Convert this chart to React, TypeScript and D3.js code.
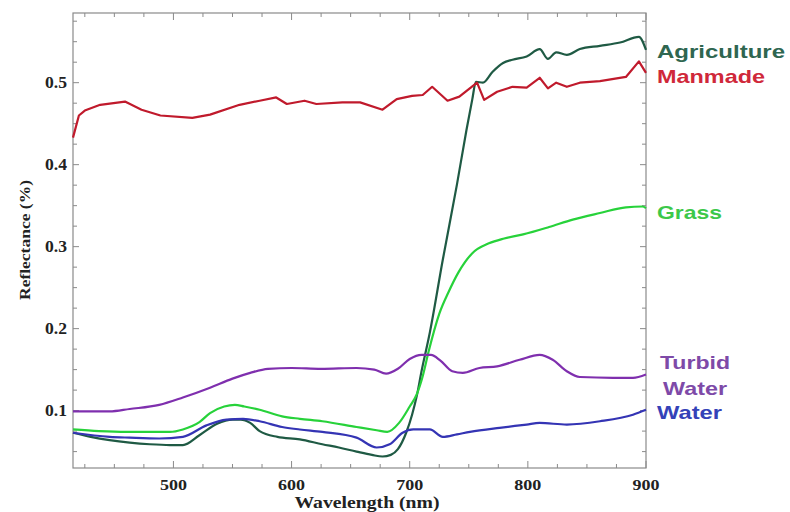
import React from "react";
import * as d3 from "d3";

// ---- data (wavelength nm, reflectance) ----
const agriculture: [number, number][] = [
  [415, 0.073], [430, 0.068], [446, 0.064], [463, 0.061], [480, 0.059], [497, 0.058],
  [508, 0.058], [522, 0.07], [537, 0.084], [550, 0.089], [557, 0.089], [565, 0.085],
  [573, 0.075], [588, 0.068], [607, 0.065], [626, 0.059], [640, 0.055], [655, 0.05],
  [668, 0.046], [677, 0.044], [684, 0.046], [690, 0.053], [697, 0.073], [702, 0.095],
  [706, 0.118], [710, 0.148], [717, 0.195], [728, 0.284], [740, 0.376], [748, 0.442],
  [753, 0.48], [756, 0.501], [762, 0.5], [770, 0.513], [779, 0.524], [787, 0.528],
  [799, 0.532], [810, 0.541], [817, 0.529], [824, 0.537], [833, 0.534], [844, 0.541],
  [861, 0.545], [878, 0.549], [894, 0.556], [900, 0.54],
];
const manmade: [number, number][] = [
  [415, 0.433], [420, 0.46], [425, 0.466], [438, 0.473], [459, 0.477], [473, 0.467], [489, 0.46],
  [516, 0.457], [531, 0.461], [556, 0.473], [573, 0.478], [587, 0.482], [596, 0.474],
  [611, 0.478], [621, 0.474], [643, 0.476], [658, 0.476], [677, 0.467], [689, 0.48],
  [702, 0.484], [711, 0.485], [719, 0.495], [732, 0.478], [742, 0.483], [757, 0.5],
  [763, 0.479], [774, 0.489], [787, 0.495], [799, 0.494], [810, 0.506], [817, 0.493],
  [824, 0.5], [833, 0.495], [844, 0.5], [861, 0.502], [883, 0.507], [894, 0.526], [900, 0.512],
];
const grass: [number, number][] = [
  [415, 0.077], [437, 0.075], [460, 0.074], [480, 0.074], [497, 0.074], [508, 0.077],
  [522, 0.086], [531, 0.097], [543, 0.105], [552, 0.107], [560, 0.105], [573, 0.101],
  [592, 0.093], [607, 0.09], [626, 0.087], [655, 0.08], [672, 0.076], [681, 0.074],
  [691, 0.085], [700, 0.105], [706, 0.12], [711, 0.142], [716, 0.172], [725, 0.218],
  [733, 0.245], [741, 0.268], [753, 0.292], [767, 0.304], [780, 0.31], [796, 0.315],
  [818, 0.324], [838, 0.333], [861, 0.341], [883, 0.348], [897, 0.349], [900, 0.347],
];
const turbidWater: [number, number][] = [
  [415, 0.099], [446, 0.099], [463, 0.102], [488, 0.107], [508, 0.116], [531, 0.128],
  [550, 0.139], [565, 0.146], [580, 0.151], [600, 0.152], [625, 0.151], [655, 0.152],
  [670, 0.15], [680, 0.145], [690, 0.151], [700, 0.163], [710, 0.168], [718, 0.168],
  [726, 0.161], [736, 0.148], [745, 0.146], [759, 0.152], [774, 0.154], [793, 0.162],
  [810, 0.168], [821, 0.162], [833, 0.148], [844, 0.141], [872, 0.14], [889, 0.14], [900, 0.144],
];
const water: [number, number][] = [
  [415, 0.073], [446, 0.068], [463, 0.067], [488, 0.066], [508, 0.068], [528, 0.082],
  [545, 0.089], [559, 0.09], [573, 0.087], [592, 0.08], [607, 0.077], [626, 0.074],
  [655, 0.067], [672, 0.055], [683, 0.059], [694, 0.073], [703, 0.077], [717, 0.077],
  [728, 0.068], [740, 0.071], [751, 0.074], [776, 0.079], [799, 0.083], [810, 0.085],
  [833, 0.083], [861, 0.087], [889, 0.095], [900, 0.101],
];

const xMajorTicks = [500, 600, 700, 800, 900];
const yMajorTicks = [0.1, 0.2, 0.3, 0.4, 0.5];
const xTitle = "Wavelength (nm)";
const yTitle = "Reflectance (%)";

const seriesList = [
  { name: "Agriculture", data: agriculture, color: "#1f5a44", curve: d3.curveMonotoneX },
  { name: "Manmade", data: manmade, color: "#c01a2c", curve: d3.curveLinear },
  { name: "Grass", data: grass, color: "#27d23a", curve: d3.curveMonotoneX },
  { name: "Turbid Water", data: turbidWater, color: "#7f2fae", curve: d3.curveMonotoneX },
  { name: "Water", data: water, color: "#3434b4", curve: d3.curveMonotoneX },
];

const labels = [
  { lines: ["Agriculture"], x: 657, y: 58, w: 128, color: "#2f6650", anchor: "start" },
  { lines: ["Manmade"], x: 657, y: 83, w: 108, color: "#d0283a", anchor: "start" },
  { lines: ["Grass"], x: 657, y: 219, w: 65, color: "#3cc84a", anchor: "start" },
  { lines: ["Turbid", "Water"], x: 695, y: 369, w: 70, color: "#7e4aa8", anchor: "middle" },
  { lines: ["Water"], x: 657, y: 419, w: 65, color: "#3442b8", anchor: "start" },
];

export default function App() {
  const left = 73, right = 646, top = 13, bottom = 468;
  const x = d3.scaleLinear().domain([415, 900]).range([left, right]);
  const y = d3.scaleLinear().domain([0.03, 0.585]).range([bottom, top]);

  const xMinor = d3.range(425, 900, 25).filter((v) => v % 100 !== 0);
  const yMinor = d3.range(0.05, 0.58, 0.025).filter((v) => Math.abs(v * 10 - Math.round(v * 10)) > 0.01);
  const axisColor = "#8a8a8a";
  const serif = "'Liberation Serif', 'Times New Roman', serif";
  const sans = "'Liberation Sans', Arial, sans-serif";

  return (
    <div style={{ position: "absolute", left: 0, top: 0 }}>
      <svg width={790} height={512} style={{ display: "block", background: "#fff" }}>
        <rect x={left} y={top} width={right - left} height={bottom - top} fill="none" stroke={axisColor} strokeWidth={1.2} />
        {/* x ticks */}
        {xMajorTicks.map((t) => (
          <g key={"xM" + t}>
            <line x1={x(t)} x2={x(t)} y1={bottom} y2={bottom - 7} stroke={axisColor} />
            <line x1={x(t)} x2={x(t)} y1={top} y2={top + 7} stroke={axisColor} />
            <text x={x(t)} y={490} textAnchor="middle" fontFamily={serif} fontWeight="bold" fontSize={15} fill="#222" textLength={27} lengthAdjust="spacingAndGlyphs">
              {t}
            </text>
          </g>
        ))}
        {xMinor.map((t) => (
          <g key={"xm" + t}>
            <line x1={x(t)} x2={x(t)} y1={bottom} y2={bottom - 4} stroke={axisColor} />
            <line x1={x(t)} x2={x(t)} y1={top} y2={top + 4} stroke={axisColor} />
          </g>
        ))}
        {/* y ticks */}
        {yMajorTicks.map((t) => (
          <g key={"yM" + t}>
            <line x1={left} x2={left + 6} y1={y(t)} y2={y(t)} stroke={axisColor} />
            <line x1={right} x2={right - 6} y1={y(t)} y2={y(t)} stroke={axisColor} />
            <text x={67} y={y(t) + 5} textAnchor="end" fontFamily={serif} fontWeight="bold" fontSize={16} fill="#222" textLength={22} lengthAdjust="spacingAndGlyphs">
              {t.toFixed(1)}
            </text>
          </g>
        ))}
        {yMinor.map((t) => (
          <g key={"ym" + t.toFixed(3)}>
            <line x1={left} x2={left + 4} y1={y(t)} y2={y(t)} stroke={axisColor} />
            <line x1={right} x2={right - 4} y1={y(t)} y2={y(t)} stroke={axisColor} />
          </g>
        ))}
        {/* titles */}
        <text x={367} y={508} textAnchor="middle" fontFamily={serif} fontWeight="bold" fontSize={16} fill="#222" textLength={145} lengthAdjust="spacingAndGlyphs">
          {xTitle}
        </text>
        <text transform="translate(30,240) rotate(-90)" textAnchor="middle" fontFamily={serif} fontWeight="bold" fontSize={15} fill="#222" textLength={120} lengthAdjust="spacingAndGlyphs">
          {yTitle}
        </text>
        {/* series */}
        {seriesList.map((s) => {
          const line = d3
            .line<[number, number]>()
            .x((d) => x(d[0]))
            .y((d) => y(d[1]))
            .curve(s.curve);
          return <path key={s.name} d={line(s.data) || ""} fill="none" stroke={s.color} strokeWidth={2.2} strokeLinejoin="round" />;
        })}
        {/* labels */}
        {labels.map((l) =>
          l.lines.map((txt, i) => (
            <text
              key={l.color + i}
              x={l.x}
              y={l.y + i * 26}
              textAnchor={l.anchor as any}
              fontFamily={sans}
              fontWeight="bold"
              fontSize={19}
              fill={l.color}
              textLength={i === 0 ? l.w : 64}
              lengthAdjust="spacingAndGlyphs"
            >
              {txt}
            </text>
          ))
        )}
      </svg>
    </div>
  );
}
